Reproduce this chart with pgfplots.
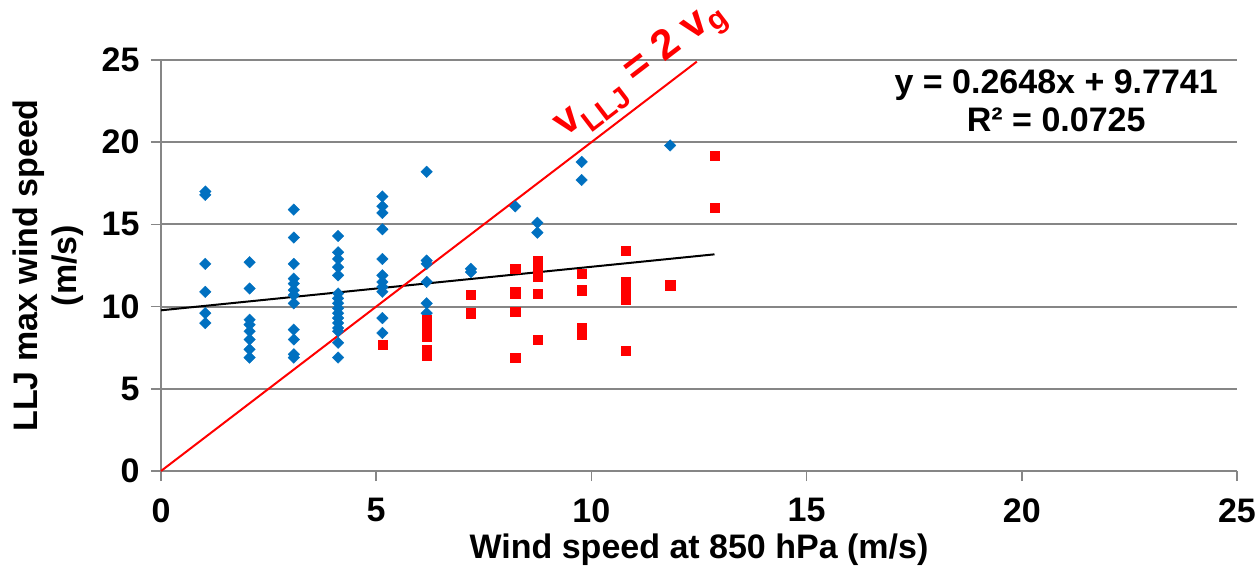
\documentclass[border=0pt]{standalone}
\usepackage{pgfplots}
\pgfplotsset{compat=1.18}
\usepackage{fontspec}
\setmainfont{Liberation Sans}
\definecolor{gridgray}{RGB}{134,134,134}
\definecolor{xlblue}{RGB}{0,112,192}
\definecolor{xlred}{RGB}{255,0,0}

\pgfplotstableread{
x y
1.029 17.0
1.029 16.8
1.029 12.6
1.029 10.9
1.029 9.6
1.029 9.0
2.058 12.7
2.058 11.1
2.058 9.2
2.058 8.9
2.058 8.5
2.058 8.0
2.058 7.4
2.058 6.9
3.086 15.9
3.086 14.2
3.086 12.6
3.086 11.7
3.086 11.4
3.086 11.0
3.086 10.7
3.086 10.2
3.086 8.6
3.086 8.0
3.086 7.1
3.086 6.9
4.115 14.3
4.115 13.3
4.115 12.9
4.115 12.4
4.115 11.9
4.115 10.8
4.115 10.5
4.115 10.2
4.115 9.9
4.115 9.6
4.115 9.3
4.115 9.0
4.115 8.7
4.115 8.5
4.115 7.8
4.115 6.9
5.144 16.7
5.144 16.1
5.144 15.7
5.144 14.7
5.144 12.9
5.144 11.9
5.144 11.5
5.144 11.2
5.144 10.9
5.144 9.3
5.144 8.4
6.173 18.2
6.173 12.8
6.173 12.6
6.173 11.5
6.173 10.2
6.173 9.6
7.202 12.3
7.202 12.1
8.230 16.1
8.745 15.1
8.745 14.5
9.774 18.8
9.774 17.7
11.831 19.8
}\bluedata

\pgfplotstableread{
x y
5.144 7.7
6.173 9.2
6.173 8.9
6.173 8.7
6.173 8.4
6.173 8.2
6.173 7.4
6.173 7.0
7.202 10.75
7.202 9.6
8.230 12.3
8.230 10.9
8.230 10.8
8.230 9.7
8.230 6.9
8.745 12.8
8.745 12.5
8.745 12.2
8.745 11.8
8.745 10.8
8.745 8.0
9.774 12.0
9.774 11.0
9.774 8.7
9.774 8.3
10.802 13.4
10.802 11.5
10.802 11.2
10.802 10.9
10.802 10.4
10.802 7.3
11.831 11.3
12.860 19.2
12.860 16.0
}\reddata

\begin{document}
\begin{tikzpicture}[font=\bfseries\fontsize{34}{39}\selectfont]
\begin{axis}[
  name=ax,
  scale only axis,
  width=1076pt, height=411pt,
  xmin=0, xmax=25, ymin=0, ymax=25,
  xtick={0,5,10,15,20,25},
  ytick={0,5,10,15,20,25},
  axis x line*=bottom, axis y line*=left,
  axis line style={gridgray, line width=2pt},
  ymajorgrids,
  major grid style={gridgray, line width=2pt},
  tick align=outside,
  major tick length=10pt,
  tick style={gridgray, line width=1.5pt},
  /pgf/number format/assume math mode=true,
  tick label style={font=\bfseries\fontsize{34}{39}\selectfont},
  yticklabel style={xshift=-8pt},
  xticklabel style={yshift=-14pt},
  xlabel={Wind speed at 850 hPa (m/s)},
  xlabel style={at={(axis description cs:0.5,0)}, anchor=base, yshift=-87pt},
  ylabel={LLJ max wind speed\\(m/s)},
  ylabel style={align=center, at={(axis description cs:-0.105,0.5)}, anchor=center},
  clip=false,
]
\addplot[only marks, mark=square*, mark size=4.1pt, color=xlblue,
  mark options={rotate=45, fill=xlblue, draw=xlblue, line width=0.3pt}]
  table[x=x, y=y] {\bluedata};
\addplot[only marks, mark=square*, mark size=4.6pt, color=xlred,
  mark options={fill=xlred, draw=xlred, line width=0.3pt}]
  table[x=x, y=y] {\reddata};
\addplot[black, line width=2pt, no marks] coordinates {(0,9.7741) (12.86,13.1793)};
\addplot[xlred, line width=2pt, no marks] coordinates {(0,0) (12.45,24.9)};
\node[align=center, font=\bfseries\fontsize{34}{38}\selectfont] at (axis cs:20.8,22.5)
  {y = 0.2648x + 9.7741\\R² = 0.0725};
\node[rotate=37.4, text=xlred, inner sep=0pt, font=\bfseries\fontsize{42}{42}\selectfont] at (axis cs:11.15,24.35)
  {v\textsubscript{LLJ} = 2 v\textsubscript{g}};
\end{axis}
\pgfresetboundingbox
\path[use as bounding box] (ax.south west) ++(-161pt,-94pt) rectangle ++(1255pt,565pt);
\end{tikzpicture}
\end{document}
